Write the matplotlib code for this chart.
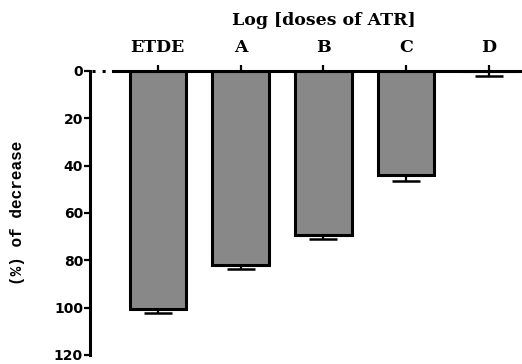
import numpy as np
import matplotlib.pyplot as plt

# data
groups = ["ETDE", "A", "B", "C", "D"]
decrease = [100.4, 82.0, 69.3, 44.0, 0.0]
err = [1.8, 1.8, 1.7, 2.3, 2.0]
yticks = [0, 20, 40, 60, 80, 100, 120]

fig = plt.figure(figsize=(5.22, 3.64), dpi=100)
ax = fig.add_axes([90/522, 1-355/364, 1-90/522, (355-71)/364])

x = np.arange(len(groups))
ax.bar(x, decrease, width=0.68, color="#888888", edgecolor="black", linewidth=2.2, zorder=2)
ax.errorbar(x, decrease, yerr=[np.zeros(len(err)), err], fmt="none", ecolor="black",
            elinewidth=1.6, capsize=10, capthick=1.8, zorder=3)

ax.set_xlim(-0.82, 4.4)
ax.set_ylim(120, 0)

# axes: left spine + top spine (broken at left)
for s in ["bottom", "right"]:
    ax.spines[s].set_visible(False)
ax.spines["left"].set_linewidth(2.2)
ax.spines["top"].set_linewidth(2.2)
ax.spines["top"].set_bounds(-0.54, 4.4)
ax.plot([-0.79, -0.54], [0, 0], color="black", lw=2.2, linestyle=(0, (1, 2.3)),
        solid_capstyle="butt", clip_on=False, zorder=4)

ax.xaxis.tick_top()
ax.xaxis.set_label_position("top")
ax.set_xticks(x)
ax.set_xticklabels(groups, fontfamily="DejaVu Serif", fontweight="bold", fontsize=12.5)
ax.tick_params(axis="x", direction="out", length=4.5, width=1.6, pad=6)
ax.set_xlabel("Log [doses of ATR]", fontfamily="DejaVu Serif", fontweight="bold", fontsize=12.5)
ax.xaxis.set_label_coords(0.542, 1.162)

ax.set_yticks(yticks)
ax.set_yticklabels([str(t) for t in yticks], fontfamily="DejaVu Sans", fontweight="bold", fontsize=10)
ax.tick_params(axis="y", direction="out", length=4, width=1.6, pad=1)
ax.set_ylabel("(%) of decrease", fontfamily="Liberation Mono", fontweight="bold", fontsize=11.5)
ax.yaxis.set_label_coords(-0.15, 0.5)

fig.savefig("out.png", dpi=100)
